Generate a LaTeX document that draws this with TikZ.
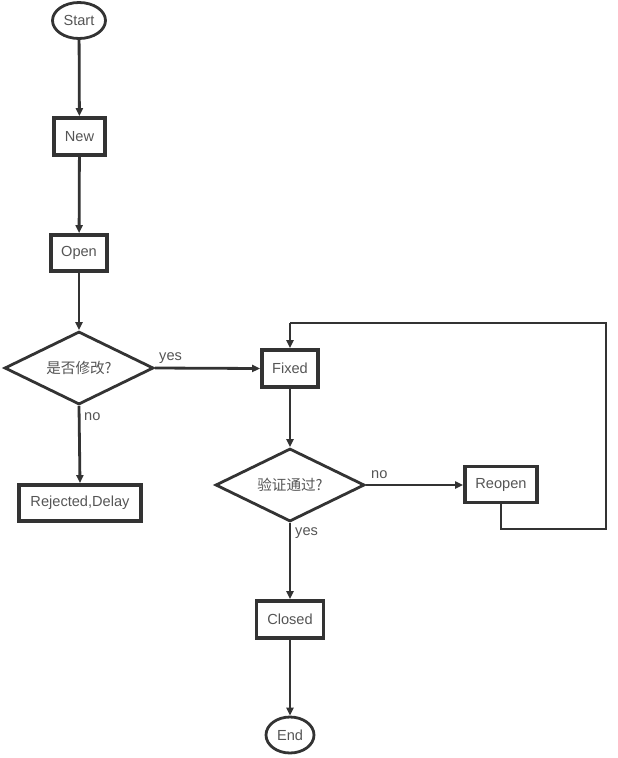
\documentclass[tikz,border=0pt]{standalone}
\usepackage{fontspec}
\setmainfont{Liberation Sans}
\newfontfamily\cjk{Noto Sans CJK SC}
\usetikzlibrary{shapes.geometric,arrows.meta}
\definecolor{linec}{HTML}{333333}
\definecolor{textc}{HTML}{555555}
\tikzset{
  base/.style={draw=linec, text=textc, font=\fontsize{14.6}{16}\selectfont, inner sep=0pt},
  term/.style={base, ellipse, line width=2.8pt},
  procbox/.style={base, rectangle, line width=3.8pt},
  decide/.style={base, diamond, line width=2.8pt, aspect=2},
  conn/.style={draw=linec, line width=2.8pt, -{Triangle[length=8pt,width=7pt]}},
  plain/.style={draw=linec, line width=2.8pt},
  lab/.style={text=textc, font=\fontsize{14.6}{16}\selectfont, inner sep=0pt}
}
\begin{document}
\begin{tikzpicture}[x=1pt,y=-1pt]
\useasboundingbox (0,0) rectangle (618,758);
\node[term, minimum width=53pt, minimum height=36pt] (start) at (79,20.5) {Start};
\node[procbox, minimum width=51pt, minimum height=37pt] (new) at (79.5,136.5) {New};
\node[procbox, minimum width=56pt, minimum height=36pt] (open) at (79,253) {Open};
\node[decide, minimum width=149pt, minimum height=73pt] (d1) at (79,368) {\cjk 是否修改?};
\node[procbox, minimum width=122pt, minimum height=36pt] (rej) at (80,503) {Rejected,Delay};
\node[procbox, minimum width=56pt, minimum height=37pt] (fixed) at (290,368.5) {Fixed};
\node[decide, minimum width=149pt, minimum height=73pt] (d2) at (290,485) {\cjk 验证通过?};
\node[procbox, minimum width=72pt, minimum height=36pt] (reopen) at (501,484.5) {Reopen};
\node[procbox, minimum width=67pt, minimum height=37pt] (closed) at (290,619.5) {Closed};
\node[term, minimum width=48pt, minimum height=36pt] (end) at (290,735) {End};

\coordinate (c1) at (606,529);
\coordinate (c2) at (606,323);
\coordinate (c3) at (290,323);

\draw[conn] (start) -- (new);
\draw[conn] (new) -- (open);
\draw[conn] (open) -- (d1);
\draw[conn] (d1.east) -- (fixed.west);
\draw[conn] (d1.south) -- (rej.north);
\draw[conn] (fixed) -- (d2);
\draw[conn] (d2.east) -- (reopen.west |- d2.east);
\draw[conn] (d2.south) -- (closed.north);
\draw[conn] (closed) -- (end);
\draw[plain, line join=miter] (reopen.south) |- (c1) -- (c2) -- (c3);
\draw[conn] (c3) -- (fixed.north);

\node[lab, anchor=west] (l1) at (159,358) {yes};
\node[lab, anchor=west] (l2) at (84,417) {no};
\node[lab, anchor=west] (l3) at (371,475) {no};
\node[lab, anchor=west] (l4) at (295,533) {yes};
\end{tikzpicture}
\end{document}
